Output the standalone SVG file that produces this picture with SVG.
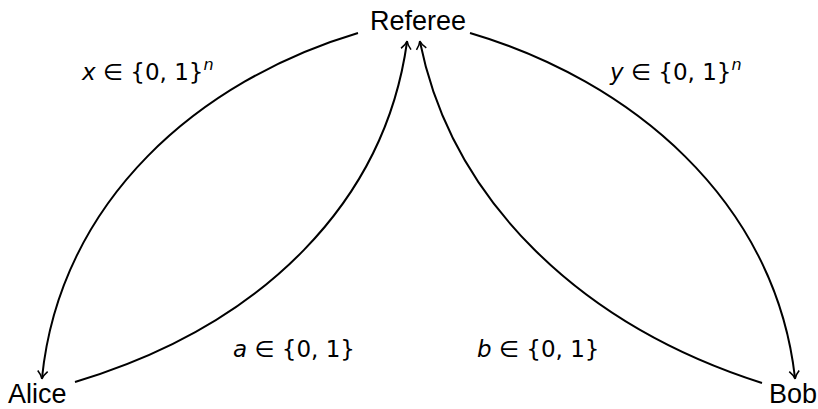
<svg xmlns="http://www.w3.org/2000/svg" width="818" height="409" viewBox="0 0 818 409">
<style>
.n{font-family:"Liberation Sans","DejaVu Sans",sans-serif;font-size:27px;fill:#000}
.l{font-family:"DejaVu Sans","Liberation Sans",sans-serif;font-size:23px;fill:#000}
.e{fill:none;stroke:#000;stroke-width:2}
</style>
<defs>
<marker id="ar" markerWidth="12" markerHeight="12" refX="9" refY="6" orient="auto" markerUnits="userSpaceOnUse">
<path d="M2,1 Q6,5 10,6 Q6,7 2,11" fill="none" stroke="#000" stroke-width="1.6"/>
</marker>
</defs>
<rect width="818" height="409" fill="#fff"/>
<g id="referee"><text class="n" x="418" y="30" text-anchor="middle">Referee</text></g>
<g id="alice"><text class="n" x="8" y="403">Alice</text></g>
<g id="bob"><text class="n" x="769" y="403">Bob</text></g>
<g id="edges">
<path class="e" d="M358,33 C200,80 60,200 42,378" marker-end="url(#ar)"/>
<path class="e" d="M75,382 C265,325 385,200 407,42" marker-end="url(#ar)"/>
<path class="e" d="M762,383 C580,325 452,200 420,42" marker-end="url(#ar)"/>
<path class="e" d="M470,33 C630,80 775,200 795,378" marker-end="url(#ar)"/>
</g>
<g id="labels">
<text class="l" x="82" y="80"><tspan font-style="italic">x</tspan> ∈ {0, 1}<tspan font-size="16" dy="-10" font-style="italic">n</tspan></text>
<text class="l" x="610" y="80"><tspan font-style="italic">y</tspan> ∈ {0, 1}<tspan font-size="16" dy="-10" font-style="italic">n</tspan></text>
<text class="l" x="233" y="357"><tspan font-style="italic">a</tspan> ∈ {0, 1}</text>
<text class="l" x="477" y="357"><tspan font-style="italic">b</tspan> ∈ {0, 1}</text>
</g>
</svg>
